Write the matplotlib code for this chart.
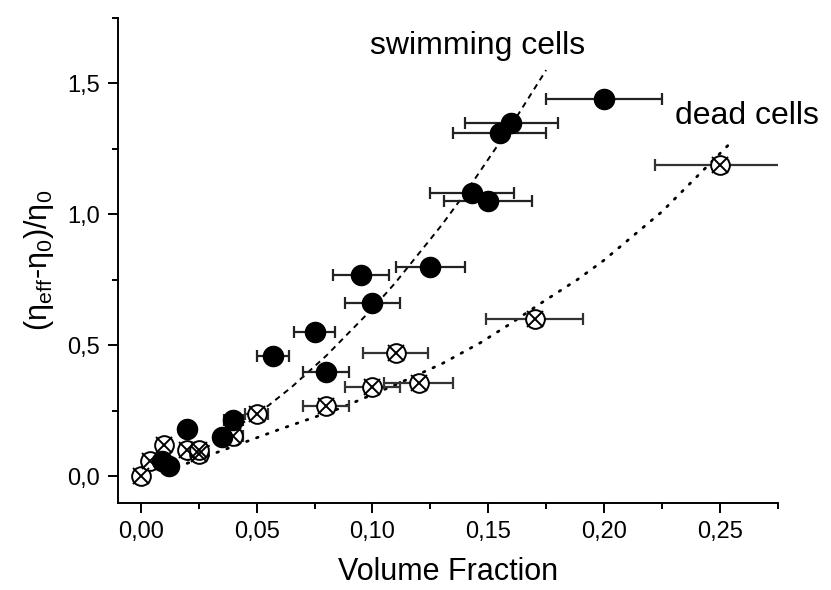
import numpy as np
import matplotlib
matplotlib.use('Agg')
import matplotlib.pyplot as plt
from matplotlib.ticker import FixedLocator

plt.rcParams['font.family'] = ['Liberation Sans', 'DejaVu Sans']
plt.rcParams['mathtext.fontset'] = 'custom'
plt.rcParams['mathtext.rm'] = 'Liberation Sans'
plt.rcParams['mathtext.it'] = 'Liberation Sans'

# swimming cells (filled circles)
swim_x = [0.009, 0.012, 0.020, 0.035, 0.040, 0.057, 0.075, 0.080, 0.095, 0.100,
          0.125, 0.143, 0.150, 0.155, 0.160, 0.200]
swim_y = [0.06, 0.04, 0.18, 0.15, 0.215, 0.46, 0.55, 0.40, 0.77, 0.66,
          0.80, 1.08, 1.05, 1.31, 1.35, 1.44]
swim_xerr = [0, 0, 0, 0, 0.004, 0.007, 0.009, 0.010, 0.012, 0.012,
             0.015, 0.018, 0.019, 0.020, 0.020, 0.025]

# dead cells (open circles with a cross)
dead_x = [0.000, 0.004, 0.010, 0.020, 0.025, 0.025, 0.040, 0.050, 0.080, 0.100,
          0.110, 0.120, 0.170, 0.250]
dead_y = [0.00, 0.06, 0.12, 0.10, 0.085, 0.10, 0.155, 0.24, 0.27, 0.34,
          0.47, 0.355, 0.60, 1.19]
dead_xerr = [0, 0, 0, 0.003, 0.003, 0.003, 0.004, 0.005, 0.010, 0.012,
             0.014, 0.015, 0.021, 0.028]

# fit curves
swim_fit_x = [0.020, 0.030, 0.045, 0.055, 0.065, 0.080, 0.090, 0.100, 0.110, 0.120,
              0.130, 0.140, 0.150, 0.160, 0.175]
swim_fit_y = [0.06, 0.12, 0.21, 0.27, 0.34, 0.46, 0.55, 0.64, 0.74, 0.85,
              0.96, 1.08, 1.21, 1.34, 1.55]
dead_fit_x = [0.020, 0.040, 0.060, 0.086, 0.110, 0.130, 0.1466, 0.160, 0.1717, 0.1885,
              0.200, 0.225, 0.254]
dead_fit_y = [0.05, 0.115, 0.18, 0.26, 0.35, 0.43, 0.51, 0.585, 0.655, 0.751,
              0.825, 1.01, 1.267]

x_ticks = [0.00, 0.05, 0.10, 0.15, 0.20, 0.25]
x_labels = ['0,00', '0,05', '0,10', '0,15', '0,20', '0,25']
y_ticks = [0.0, 0.5, 1.0, 1.5]
y_labels = ['0,0', '0,5', '1,0', '1,5']

fig = plt.figure(figsize=(8.31, 5.9), dpi=100)
ax = fig.add_axes([0.1416, 0.148, 0.7943, 0.822])

ax.plot(swim_fit_x, swim_fit_y, color='black', lw=1.4, dashes=(3, 2.5), zorder=1)
ax.plot(dead_fit_x, dead_fit_y, color='black', lw=2.0, dashes=(0.6, 3.2),
        dash_capstyle='round', zorder=1)

ax.errorbar(dead_x, dead_y, xerr=dead_xerr, fmt='none', ecolor='#333333',
            elinewidth=1.6, capsize=4, capthick=1.6, zorder=2)
ax.errorbar(swim_x, swim_y, xerr=swim_xerr, fmt='none', ecolor='#222222',
            elinewidth=1.6, capsize=4, capthick=1.6, zorder=2)

ax.plot(dead_x, dead_y, 'o', ms=13.5, mfc='white', mec='black', mew=1.4, zorder=3)
ax.plot(dead_x, dead_y, 'x', ms=12, mec='black', mew=1.4, zorder=4)
ax.plot(swim_x, swim_y, 'o', ms=14.5, mfc='black', mec='black', zorder=5)

ax.text(0.099, 1.641, 'swimming cells', fontsize=23, ha='left', va='center')
ax.text(0.2305, 1.374, 'dead cells', fontsize=23, ha='left', va='center')

ax.set_xlim(-0.01, 0.275)
ax.set_ylim(-0.1, 1.75)
ax.xaxis.set_major_locator(FixedLocator(x_ticks))
ax.set_xticklabels(x_labels)
ax.yaxis.set_major_locator(FixedLocator(y_ticks))
ax.set_yticklabels(y_labels)
ax.xaxis.set_minor_locator(FixedLocator([0.025, 0.075, 0.125, 0.175, 0.225, 0.275]))
ax.yaxis.set_minor_locator(FixedLocator([0.25, 0.75, 1.25, 1.75]))

ax.spines['top'].set_visible(False)
ax.spines['right'].set_visible(False)
for s in ['left', 'bottom']:
    ax.spines[s].set_linewidth(1.4)
ax.tick_params(which='major', direction='out', length=7, width=1.4, labelsize=17, pad=6)
ax.tick_params(which='minor', direction='out', length=4.5, width=1.4)

ax.set_xlabel('Volume Fraction', fontsize=22, labelpad=10)
ax.set_ylabel('(η$_{\\mathrm{eff}}$-η$_0$)/η$_0$', fontsize=22, labelpad=8)

fig.savefig('out.png', dpi=100)
